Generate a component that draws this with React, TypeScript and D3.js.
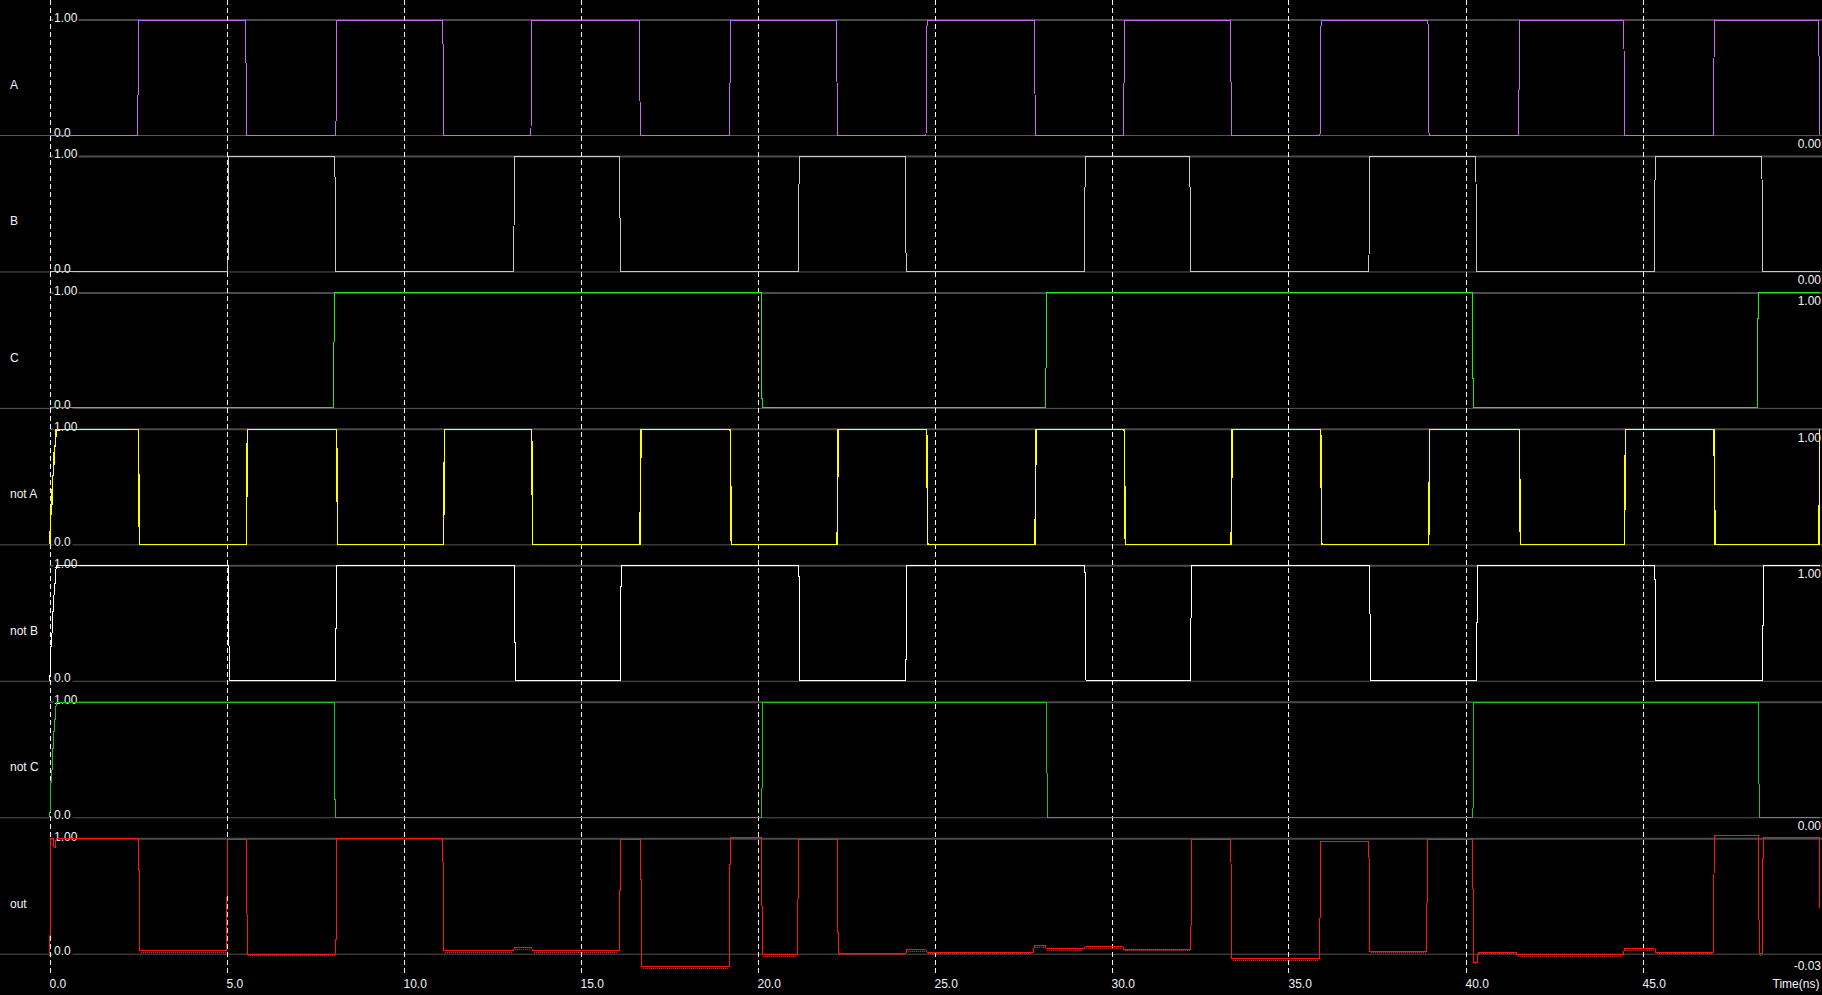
import { useEffect, useRef } from 'react';
import * as d3 from 'd3';

const WIDTH = 1822;
const HEIGHT = 995;

// signal rows, top to bottom
const signalNames = ['A', 'B', 'C', 'not A', 'not B', 'not C', 'out'];
const signalColors = ['#c56ae6', '#c8c8c8', '#22e622', '#ffff00', '#ffffff', '#1fc01f', '#ff1414'];
const signalWidths = [1, 1, 1, 1.5, 1, 1, 1];

// value shown at the right edge of every row
const endLabels = ['0.00', '0.00', '1.00', '1.00', '1.00', '0.00', '-0.03'];
const endValues = [0, 0, 1, 1, 1, 0, -0.035];

const timeTicks = [0, 5, 10, 15, 20, 25, 30, 35, 40, 45];

// power-up ramp of the inverters (ns, level)
const powerUp: [number, number][] = [[0, 0], [0.01, 0.3], [0.06, 0.6], [0.11, 0.85], [0.16, 1]];

// edge times (ns); level toggles at every edge
const edgesA = [2.49, 5.54, 8.09, 11.11, 13.6, 16.66, 19.21, 22.23, 24.76, 27.82, 30.34, 33.36, 35.89, 38.94, 41.5, 44.47, 47.0, 49.98];
const edgesB = [5.04, 8.06, 13.11, 16.1, 21.15, 24.17, 29.23, 32.21, 37.27, 40.29, 45.33, 48.37];
const edgesC = [8.02, 20.1, 28.14, 40.19, 48.24];
const edgesNotA = [2.51, 5.56, 8.11, 11.13, 13.62, 16.68, 19.23, 22.25, 24.78, 27.84, 30.36, 33.38, 35.91, 38.96, 41.52, 44.49, 47.02, 49.99];
const edgesNotB = [5.05, 8.08, 13.13, 16.12, 21.17, 24.19, 29.25, 32.23, 37.29, 40.31, 45.35, 48.39];
const edgesNotC = [8.04, 20.12, 28.16, 40.21, 48.27];

// out as (ns, level) steps
const stepsOut: [number, number][] = [
  [0, 0], [0.01, 1.0], [0.1, 0.92], [0.16, 1.0],
  [2.52, 0.026], [5.0, 0.99], [5.56, -0.005], [8.09, 1.0],
  [11.11, 0.025], [13.1, 0.05], [13.62, 0.025], [16.1, 0.99],
  [16.7, -0.115], [19.2, 1.01], [20.11, -0.01], [21.13, 0.99],
  [22.25, 0.003], [24.19, 0.035], [24.76, 0.012], [27.79, 0.07],
  [28.13, 0.043], [29.22, 0.06], [30.32, 0.037], [32.24, 0.99],
  [33.37, -0.043], [35.88, 0.98], [37.27, 0.02], [38.9, 0.99],
  [40.2, -0.075], [40.33, 0.012], [41.43, -0.01], [44.46, 0.043],
  [45.35, 0.012], [47.0, 1.03], [48.27, 0.0], [48.38, 1.01],
  [49.99, 0.4],
];

function edgeSteps(start: [number, number][], edges: number[]): [number, number][] {
  const steps = start.slice();
  let level = steps[steps.length - 1][1];
  edges.forEach((t) => {
    level = level > 0.5 ? 0 : 1;
    steps.push([t, level]);
  });
  return steps;
}

const signalSteps: [number, number][][] = [
  edgeSteps([[0, 0]], edgesA),
  edgeSteps([[0, 0]], edgesB),
  edgeSteps([[0, 0]], edgesC),
  edgeSteps(powerUp, edgesNotA),
  edgeSteps(powerUp, edgesNotB),
  edgeSteps(powerUp, edgesNotC),
  stepsOut,
];

export default function App() {
  const svgRef = useRef<SVGSVGElement>(null);

  useEffect(() => {
    if (!svgRef.current) return;
    document.body.style.margin = '0';
    document.body.style.background = '#000';

    const svg = d3.select(svgRef.current);
    svg.selectAll('*').remove();

    const font = '"Liberation Sans", Arial, sans-serif';
    const textColor = '#f2f4f8';

    const rowTop = 20;
    const rowStep = 136.45;
    const rowHeight = 115;
    const tEnd = 50;
    const ramp = 0.03;

    const x = d3.scaleLinear().domain([0, tEnd]).range([49.5, 1819.5]);

    svg.append('rect').attr('width', WIDTH).attr('height', HEIGHT).attr('fill', '#000');

    const rows = svg.append('g');
    const gridG = svg.append('g');
    const traces = svg.append('g');

    signalNames.forEach((name, i) => {
      const top = rowTop + i * rowStep;
      const y = d3.scaleLinear().domain([0, 1]).range([top + rowHeight, top]);
      const g = rows.append('g');

      // level lines
      g.append('line')
        .attr('x1', x(0)).attr('x2', WIDTH)
        .attr('y1', y(1)).attr('y2', y(1))
        .attr('stroke', '#4a4a4a').attr('stroke-width', 2);
      g.append('line')
        .attr('x1', 0).attr('x2', WIDTH)
        .attr('y1', y(0) + 0.5).attr('y2', y(0) + 0.5)
        .attr('stroke', '#555').attr('stroke-width', 1);

      // left level labels on black
      g.append('rect').attr('x', 53.5).attr('y', y(1) - 4).attr('width', 25).attr('height', 8).attr('fill', '#000');
      g.append('rect').attr('x', 53.5).attr('y', y(0) - 4).attr('width', 19).attr('height', 8).attr('fill', '#000');
      g.append('text')
        .attr('x', 54).attr('y', y(1) + 2)
        .attr('font-family', font).attr('font-size', 12).attr('fill', textColor)
        .text('1.00');
      g.append('text')
        .attr('x', 54).attr('y', y(0) + 1.5)
        .attr('font-family', font).attr('font-size', 12).attr('fill', textColor)
        .text('0.0');

      // signal name
      g.append('text')
        .attr('x', 10).attr('y', top + 69)
        .attr('font-family', font).attr('font-size', 12).attr('fill', textColor)
        .text(name);

      // value at the right edge
      g.append('text')
        .attr('x', 1821).attr('y', y(endValues[i]) + 12.5)
        .attr('text-anchor', 'end')
        .attr('font-family', font).attr('font-size', 12).attr('fill', textColor)
        .text(endLabels[i]);

      // trace
      const steps = signalSteps[i];
      const pts: [number, number][] = [[steps[0][0], steps[0][1]]];
      for (let k = 1; k < steps.length; k++) {
        const [t, v] = steps[k];
        const prev = steps[k - 1][1];
        pts.push([t, prev]);
        pts.push([Math.min(t + ramp, tEnd), v]);
      }
      pts.push([tEnd, steps[steps.length - 1][1]]);

      const line = d3
        .line<[number, number]>()
        .x((d) => x(d[0]))
        .y((d) => y(d[1]));

      traces.append('path')
        .attr('d', line(pts))
        .attr('fill', 'none')
        .attr('stroke', signalColors[i])
        .attr('stroke-width', signalWidths[i])
        .attr('shape-rendering', 'crispEdges');

      // simulator noise on the output's low levels: a dotted second pixel row
      if (name === 'out') {
        steps.forEach((s, k) => {
          if (Math.abs(s[1]) > 0.15 || k === steps.length - 1) return;
          traces.append('line')
            .attr('x1', x(s[0] + ramp) + 1)
            .attr('x2', x(steps[k + 1][0]) - 1)
            .attr('y1', y(s[1]) + 1.5)
            .attr('y2', y(s[1]) + 1.5)
            .attr('stroke', signalColors[i])
            .attr('stroke-width', 1)
            .attr('stroke-dasharray', '1,1')
            .attr('shape-rendering', 'crispEdges');
        });
      }
    });

    // dashed time grid
    gridG.selectAll('line')
      .data(timeTicks)
      .enter()
      .append('line')
      .attr('x1', (d) => Math.round(x(d)) + 0.5)
      .attr('x2', (d) => Math.round(x(d)) + 0.5)
      .attr('y1', 0)
      .attr('y2', 975)
      .attr('stroke', '#fff')
      .attr('stroke-width', 1)
      .attr('stroke-dasharray', '5,3');

    // time axis labels
    svg.append('g')
      .selectAll('text')
      .data(timeTicks)
      .enter()
      .append('text')
      .attr('x', (d) => x(d))
      .attr('y', 987.5)
      .attr('font-family', font)
      .attr('font-size', 12)
      .attr('fill', textColor)
      .text((d) => d.toFixed(1));

    svg.append('text')
      .attr('x', 1772.5)
      .attr('y', 987.5)
      .attr('font-family', font)
      .attr('font-size', 12)
      .attr('fill', textColor)
      .text('Time(ns)');
  }, []);

  return (
    <div style={{ position: 'fixed', left: 0, top: 0, width: WIDTH, height: HEIGHT, background: '#000' }}>
      <svg ref={svgRef} width={WIDTH} height={HEIGHT} style={{ display: 'block' }} />
    </div>
  );
}
